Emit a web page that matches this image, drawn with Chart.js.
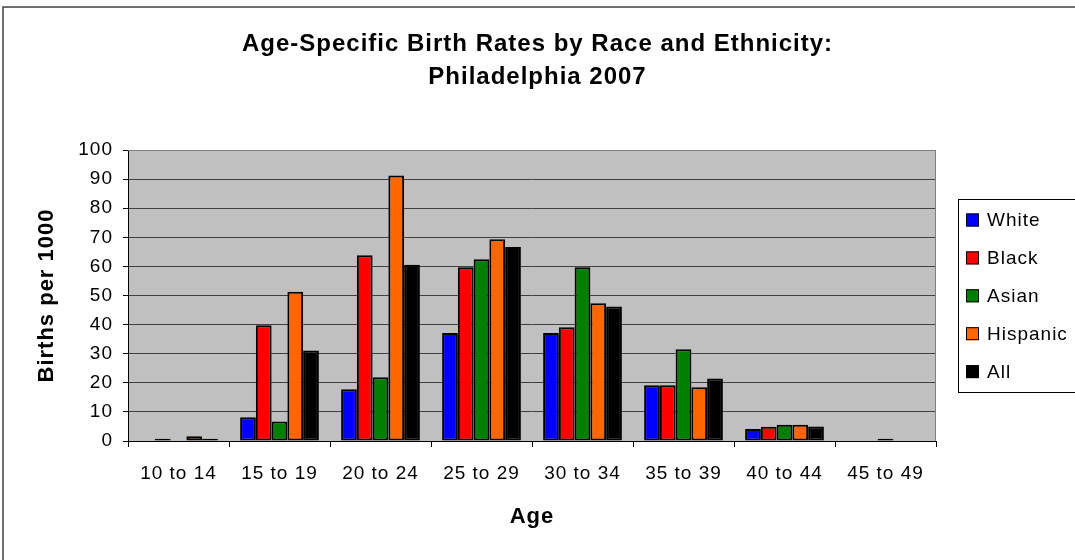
<!DOCTYPE html>
<html>
<head>
<meta charset="utf-8">
<script src="https://cdn.jsdelivr.net/npm/chart.js@4/dist/chart.umd.min.js"></script>
<style>
  html, body { margin: 0; padding: 0; background: #fff; }
  canvas { display: block; }
</style>
</head>
<body>
<canvas id="grafico" width="1075" height="560"></canvas>
<script>
// Dados (nascimentos por 1000)
const faixas = ['10 to 14', '15 to 19', '20 to 24', '25 to 29', '30 to 34', '35 to 39', '40 to 44', '45 to 49'];
const white    = [0,   8.2, 17.8, 37.1, 37.1, 19.2, 4.1, 0];
const black    = [0.8, 39.8, 63.8, 59.7, 39.1, 19.2, 4.9, 0];
const asian    = [0,   6.7, 21.9, 62.5, 59.7, 31.5, 5.6, 0.8];
const hispanic = [1.6, 51.3, 91.2, 69.3, 47.3, 18.5, 5.6, 0];
const all      = [0.8, 31.1, 60.6, 66.7, 46.2, 21.5, 5.0, 0];
const series   = ['White', 'Black', 'Asian', 'Hispanic', 'All'];
const cores    = ['#0000FF', '#FF0000', '#008000', '#FF6600', '#000000'];

const FONTE = '"Liberation Sans", Arial, sans-serif';
Chart.defaults.font.family = FONTE;
Chart.defaults.color = '#000';

// O texto do original é mais "espaçado" que o Arial normal
const espacamento = {
  id: 'espacamento',
  beforeUpdate(chart) { chart.ctx.letterSpacing = '1px'; },
  beforeDraw(chart) { chart.ctx.letterSpacing = '1px'; }
};

// Fundo, moldura externa e fundo cinza da área do gráfico
const fundoPlugin = {
  id: 'fundo',
  beforeDraw(chart) {
    const { ctx, chartArea: a } = chart;
    ctx.save();
    ctx.fillStyle = '#fff';
    ctx.fillRect(0, 0, chart.width, chart.height);
    ctx.strokeStyle = '#404040';
    ctx.lineWidth = 1.5;
    ctx.strokeRect(3, 7, chart.width + 10, chart.height + 10);
    ctx.fillStyle = '#C0C0C0';
    ctx.fillRect(a.left, a.top, a.right - a.left, a.bottom - a.top);
    ctx.restore();
  },
  beforeDatasetsDraw(chart) {
    const { ctx, chartArea: a } = chart;
    ctx.save();
    ctx.strokeStyle = '#808080';
    ctx.lineWidth = 1;
    ctx.beginPath();
    ctx.moveTo(a.left, a.top + 0.5);
    ctx.lineTo(a.right - 0.5, a.top + 0.5);
    ctx.lineTo(a.right - 0.5, a.bottom);
    ctx.stroke();
    ctx.restore();
  }
};

// Legenda com borda, à direita
const legendaPlugin = {
  id: 'legendaCaixa',
  afterDraw(chart) {
    const { ctx } = chart;
    const x0 = 958.5, y0 = 199.5, h = 193;
    ctx.save();
    ctx.strokeStyle = '#000';
    ctx.lineWidth = 1;
    ctx.strokeRect(x0, y0, 130, h);
    ctx.font = '19px ' + FONTE;
    ctx.textBaseline = 'middle';
    chart.data.datasets.forEach((ds, i) => {
      const cy = 220 + i * 37.9;
      ctx.fillStyle = ds.backgroundColor;
      ctx.fillRect(966, cy - 6.5, 13, 13);
      ctx.strokeStyle = '#000';
      ctx.strokeRect(966.5, cy - 6, 12, 12);
      ctx.fillStyle = '#000';
      ctx.fillText(ds.label, 987, cy + 1);
    });
    ctx.restore();
  }
};

const valores = [white, black, asian, hispanic, all];

new Chart(document.getElementById('grafico'), {
  type: 'bar',
  data: {
    labels: faixas,
    datasets: series.map((nome, i) => ({
      label: nome,
      data: valores[i],
      backgroundColor: cores[i],
      borderColor: '#000',
      borderWidth: ctx => (ctx.raw ? 2 : 0),
      borderSkipped: false,
      categoryPercentage: 0.78,
      barPercentage: 1.0
    }))
  },
  options: {
    responsive: false,
    animation: false,
    devicePixelRatio: 1,
    layout: { padding: 0 },
    plugins: {
      legend: { display: false },
      tooltip: { enabled: false },
      title: {
        display: true,
        text: ['Age-Specific Birth Rates by Race and Ethnicity:', 'Philadelphia 2007'],
        font: { size: 24, weight: 'bold', lineHeight: '33px' },
        color: '#000',
        padding: { top: 28, bottom: 56 }
      }
    },
    scales: {
      x: {
        grid: {
          offset: true,
          drawOnChartArea: false,
          tickLength: 6,
          color: '#000'
        },
        border: { color: '#000', width: 1 },
        ticks: { font: { size: 19 }, color: '#000', padding: 15, maxRotation: 0 },
        title: {
          display: true,
          text: 'Age',
          font: { size: 22, weight: 'bold' },
          padding: { top: 0, bottom: 30 }
        },
        afterFit(scale) { scale.height = 119; }
      },
      y: {
        min: 0,
        max: 100,
        ticks: { stepSize: 10, font: { size: 19 }, color: '#000', padding: 10 },
        grid: {
          color: ctx => (ctx.tick && ctx.tick.value === 100 ? '#808080' : '#404040'),
          tickColor: '#000',
          tickLength: 5,
          lineWidth: 1
        },
        border: { color: '#000', width: 1 },
        title: {
          display: true,
          text: 'Births per 1000',
          font: { size: 22, weight: 'bold' },
          padding: { top: 34, bottom: 0 }
        },
        afterFit(scale) { scale.width = 128; }
      },
      // eixo vazio à direita: reserva o espaço da legenda
      reserva: {
        type: 'linear',
        position: 'right',
        grid: { display: false, drawTicks: false },
        border: { display: false },
        ticks: { display: false },
        afterFit(scale) { scale.width = 139; }
      }
    }
  },
  plugins: [espacamento, fundoPlugin, legendaPlugin]
});
</script>
</body>
</html>
